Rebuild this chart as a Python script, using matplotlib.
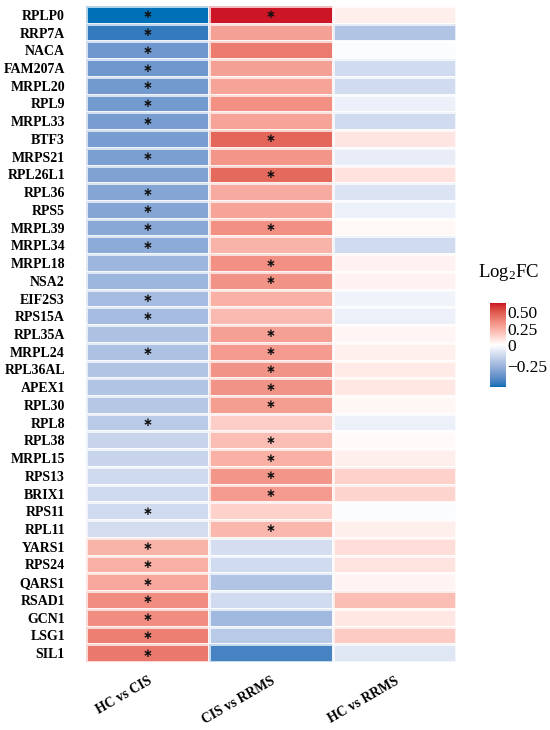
import numpy as np
import matplotlib
matplotlib.use("Agg")
import matplotlib.pyplot as plt
from matplotlib.colors import ListedColormap, TwoSlopeNorm, to_rgb

genes = ["RPLP0", "RRP7A", "NACA", "FAM207A", "MRPL20", "RPL9", "MRPL33", "BTF3",
         "MRPS21", "RPL26L1", "RPL36", "RPS5", "MRPL39", "MRPL34", "MRPL18", "NSA2",
         "EIF2S3", "RPS15A", "RPL35A", "MRPL24", "RPL36AL", "APEX1", "RPL30", "RPL8",
         "RPL38", "MRPL15", "RPS13", "BRIX1", "RPS11", "RPL11", "YARS1", "RPS24",
         "QARS1", "RSAD1", "GCN1", "LSG1", "SIL1"]
comparisons = ["HC vs CIS", "CIS vs RRMS", "HC vs RRMS"]

hc_cis = [-0.51, -0.47, -0.36, -0.36, -0.35, -0.35, -0.34, -0.34,
          -0.33, -0.32, -0.31, -0.31, -0.30, -0.29, -0.25, -0.25,
          -0.23, -0.23, -0.21, -0.21, -0.20, -0.20, -0.19, -0.18,
          -0.145, -0.145, -0.125, -0.125, -0.12, -0.115, 0.23, 0.24,
          0.27, 0.35, 0.35, 0.39, 0.41]
cis_rrms = [0.63, 0.29, 0.40, 0.29, 0.28, 0.34, 0.28, 0.46,
            0.32, 0.45, 0.26, 0.28, 0.34, 0.23, 0.34, 0.33,
            0.24, 0.21, 0.29, 0.31, 0.33, 0.33, 0.30, 0.15,
            0.20, 0.24, 0.32, 0.31, 0.14, 0.22, -0.11, -0.12,
            -0.20, -0.12, -0.24, -0.18, -0.44]
hc_rrms = [0.05, -0.20, -0.01, -0.12, -0.12, -0.05, -0.12, 0.08,
           -0.06, 0.09, -0.09, -0.05, 0.02, -0.12, 0.04, 0.04,
           -0.04, -0.05, 0.03, 0.045, 0.065, 0.07, 0.025, -0.05,
           0.015, 0.05, 0.14, 0.13, -0.01, 0.05, 0.10, 0.085,
           0.035, 0.20, 0.07, 0.16, -0.08]

sig_hc_cis = [1, 1, 1, 1, 1, 1, 1, 0, 1, 0, 1, 1, 1, 1, 0, 0, 1, 1, 0, 1, 0, 0, 0, 1,
              0, 0, 0, 0, 1, 0, 1, 1, 1, 1, 1, 1, 1]
sig_cis_rrms = [1, 0, 0, 0, 0, 0, 0, 1, 0, 1, 0, 0, 1, 0, 1, 1, 0, 0, 1, 1, 1, 1, 1, 0,
                1, 1, 1, 1, 0, 1, 0, 0, 0, 0, 0, 0, 0]
sig_hc_rrms = [0] * len(genes)

cbar_ticks = [0.5, 0.25, 0, -0.25]
cbar_labels = ["0.50", "0.25", "0", "\u22120.25"]

# ---- Lab-space diverging colormap (like ggplot2 gradient2) ----
def srgb_to_lab(c):
    c = np.asarray(c, float)
    lin = np.where(c <= 0.04045, c / 12.92, ((c + 0.055) / 1.055) ** 2.4)
    M = np.array([[0.4124, 0.3576, 0.1805], [0.2126, 0.7152, 0.0722], [0.0193, 0.1192, 0.9505]])
    xyz = M @ lin
    wp = np.array([0.95047, 1.0, 1.08883])
    t = xyz / wp
    f = np.where(t > 0.008856, np.cbrt(t), 7.787 * t + 16 / 116)
    return np.array([116 * f[1] - 16, 500 * (f[0] - f[1]), 200 * (f[1] - f[2])])

def lab_to_srgb(lab):
    L, a, b = lab
    fy = (L + 16) / 116
    fx = fy + a / 500
    fz = fy - b / 200
    def finv(t):
        return np.where(t ** 3 > 0.008856, t ** 3, (t - 16 / 116) / 7.787)
    wp = np.array([0.95047, 1.0, 1.08883])
    xyz = np.array([finv(fx), finv(fy), finv(fz)]) * wp
    Minv = np.array([[3.2406, -1.5372, -0.4986], [-0.9689, 1.8758, 0.0415], [0.0557, -0.2040, 1.0570]])
    lin = Minv @ xyz
    lin = np.clip(lin, 0, 1)
    c = np.where(lin <= 0.0031308, 12.92 * lin, 1.055 * lin ** (1 / 2.4) - 0.055)
    return np.clip(c, 0, 1)

low = srgb_to_lab(to_rgb("#0070B8"))
mid = srgb_to_lab(to_rgb("#FFFFFF"))
high = srgb_to_lab(to_rgb("#CB0E24"))
cols = []
n = 256
for t in np.linspace(0, 1, n):
    cols.append(lab_to_srgb(low + (mid - low) * t))
for t in np.linspace(0, 1, n):
    cols.append(lab_to_srgb(mid + (high - mid) * t))
cmap = ListedColormap(cols)
norm = TwoSlopeNorm(vmin=-0.51, vcenter=0, vmax=0.64)

plt.rcParams['font.family'] = ['Liberation Serif', 'DejaVu Serif']
plt.rcParams['mathtext.fontset'] = 'custom'
plt.rcParams['mathtext.rm'] = 'Liberation Serif'

data = np.array([hc_cis, cis_rrms, hc_rrms]).T
sig = np.array([sig_hc_cis, sig_cis_rrms, sig_hc_rrms]).T

fig = plt.figure(figsize=(5.5, 7.3), dpi=100)
ax = fig.add_axes([0.156, 0.0932, 0.673, 0.8986])
mesh = ax.pcolormesh(np.arange(4), np.arange(len(genes) + 1), data, cmap=cmap, norm=norm,
                     edgecolor=(1, 1, 1, 0.7), linewidth=0.9)
ax.set_ylim(len(genes), 0)
ax.set_xlim(0, 3)
for i in range(len(genes)):
    for j in range(3):
        if sig[i, j]:
            ax.text(j + 0.5, i + 0.5, "\u2217", ha="center", va="center", fontsize=8.5,
                    color="#111111", family="DejaVu Sans", fontweight="bold")
ax.set_yticks(np.arange(len(genes)) + 0.5)
ax.set_yticklabels(genes, fontsize=10, fontweight="bold")
ax.set_xticks(np.arange(3) + 0.5)
ax.set_xticklabels(comparisons, fontsize=9.8, fontweight="bold", rotation=30,
                   ha="right", va="top", rotation_mode="anchor")
ax.tick_params(axis="y", length=0, pad=15)
ax.tick_params(axis="x", length=0, pad=9)
for s in ax.spines.values():
    s.set_visible(False)

cax = fig.add_axes([0.891, 0.470, 0.029, 0.115])
cb = fig.colorbar(mesh, cax=cax, ticks=cbar_ticks)
cb.outline.set_visible(False)
cb.ax.set_yticklabels(cbar_labels, fontsize=12.5)
cb.ax.tick_params(length=0, pad=1)
fig.text(0.925, 0.627, r"$\mathrm{Log_{2}FC}$", ha="center", va="center", fontsize=13.5)

fig.savefig("out.png", dpi=100)
